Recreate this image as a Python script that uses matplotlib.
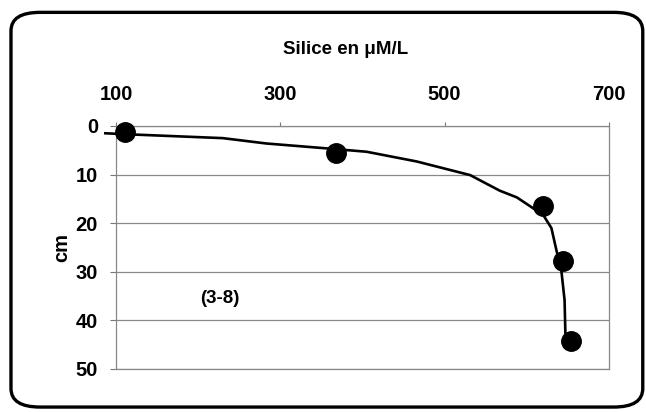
import matplotlib
matplotlib.use("Agg")
import matplotlib.pyplot as plt
from matplotlib.patches import FancyBboxPatch

plt.rcParams['font.family'] = ['Liberation Sans', 'DejaVu Sans']
plt.rcParams['font.weight'] = 'bold'

# measured points (silica, depth)
silice = [111, 368, 620, 644, 654]
depth = [1.3, 5.6, 16.5, 27.7, 44.2]

# hand-drawn trend curve
curve_x = [87, 113, 230, 283, 356, 405, 466, 531, 567, 588, 620, 630, 636, 642, 646, 647]
curve_y = [1.5, 1.7, 2.5, 3.6, 4.6, 5.3, 7.3, 10.1, 13.3, 14.7, 18.3, 21.0, 25.5, 29.6, 35.8, 42.6]

x_ticks = [100, 300, 500, 700]
y_ticks = [0, 10, 20, 30, 40, 50]

fig = plt.figure(figsize=(6.46, 4.12), dpi=100)
ax = fig.add_axes([0.1796, 0.1044, 0.763, 0.5898])

# rounded frame around the whole chart
frame = FancyBboxPatch((0.017, 0.012), 0.978, 0.958,
                       boxstyle="round,pad=0,rounding_size=0.045",
                       transform=fig.transFigure, fill=False,
                       edgecolor='black', linewidth=2.4, clip_on=False)
fig.patches.append(frame)

ax.plot(curve_x, curve_y, color='black', linewidth=1.9, clip_on=False, zorder=3)
ax.plot(silice, depth, 'o', color='black', markersize=14, clip_on=False, zorder=4)

ax.set_xlim(100, 700)
ax.set_ylim(50, 0)
ax.xaxis.tick_top()
ax.xaxis.set_label_position('top')
ax.set_xticks(x_ticks)
ax.set_yticks(y_ticks)
ax.tick_params(axis='x', labelsize=14.5, length=3, width=0.8, color='#777777', pad=13)
ax.tick_params(axis='y', labelsize=14.5, length=4, width=0.8, color='#777777', pad=9)

ax.yaxis.grid(True, color='#888888', linewidth=0.9)
for s in ax.spines.values():
    s.set_color('#888888')
    s.set_linewidth(0.9)

ax.set_xlabel("Silice en \u03bcM/L", fontsize=13.5, fontweight='bold')
ax.xaxis.set_label_coords(0.465, 1.297)
ax.set_ylabel("cm", fontsize=14.5, fontweight='bold')
ax.yaxis.set_label_coords(-0.09, 0.5)

ax.text(226, 35.4, "(3-8)", fontsize=13.5, fontweight='bold', ha='center', va='center')

fig.savefig("out.png", dpi=100)
